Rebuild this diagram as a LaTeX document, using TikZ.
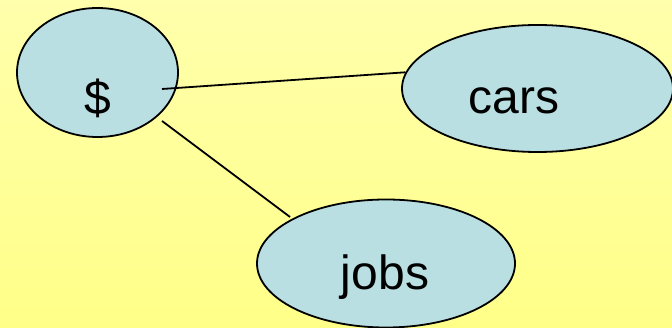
\documentclass[tikz,border=0pt]{standalone}
\usepackage{fontspec}
\setmainfont{Liberation Sans}
\usetikzlibrary{shapes.geometric}
\definecolor{bgtop}{RGB}{255,255,172}
\definecolor{bgbot}{RGB}{255,255,136}
\definecolor{bubble}{RGB}{185,223,227}
\tikzset{
  bubble/.style={ellipse, draw=black, line width=1.8pt, fill=bubble, inner sep=0pt},
  word/.style={anchor=base, inner sep=0pt, font=\fontsize{48}{48}\selectfont},
  link/.style={draw=black, line width=1.8pt}
}
\begin{document}
\begin{tikzpicture}[x=1pt, y=-1pt]
  % page with a soft yellow gradient
  \shade[top color=bgtop, bottom color=bgbot] (0,0) rectangle (672,328);
  \useasboundingbox (0,0) rectangle (672,328);

  % bubbles
  \node[bubble, minimum width=161pt, minimum height=129pt] (money) at (97.5,72.5) {};
  \node[bubble, minimum width=271pt, minimum height=127pt] (cars) at (537.5,88.5) {};
  \node[bubble, minimum width=258pt, minimum height=128pt] (jobs) at (386,263.5) {};

  % words
  \node[word] (tmoney) at (98,115) {\$};
  \node[word] (tcars) at (514,114) {cars};
  \node[word] (tjobs) at (385,290) {jobs};

  % connector ends
  \coordinate (m1) at (162,89);
  \coordinate (m2) at (162,121);
  \coordinate (j1) at (290,217);

  % connectors
  \draw[link] (m1) -- (cars.173);
  \draw[link] (m2) -- (j1);
\end{tikzpicture}
\end{document}
